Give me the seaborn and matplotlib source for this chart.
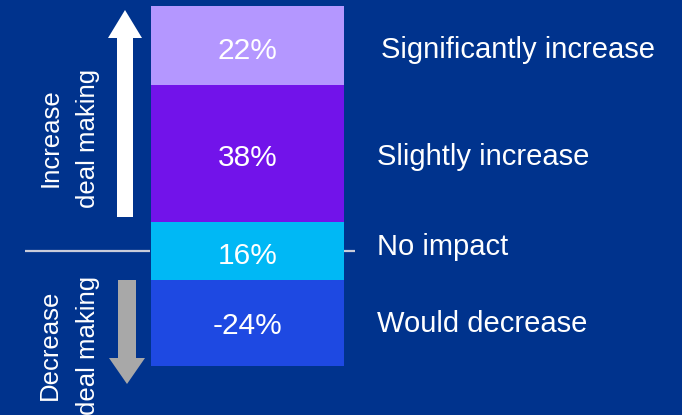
import matplotlib
matplotlib.use("Agg")
import matplotlib.pyplot as plt
from matplotlib.patches import Polygon
import numpy as np
import seaborn as sns

# Survey responses, drawn bottom to top
categories = ["Would decrease", "No impact", "Slightly increase", "Significantly increase"]
values = [-24, 16, 38, 22]
value_labels = ["-24%", "16%", "38%", "22%"]
colors = ["#1E49E2", "#00B8F5", "#7213EA", "#B497FF"]
side_labels = ["Decrease\ndeal making", "Increase\ndeal making"]

BG = "#00338D"
W, H = 682, 415

sns.set_theme(style="white")
plt.rcParams["font.family"] = ["Liberation Sans", "DejaVu Sans"]

fig = plt.figure(figsize=(W / 100, H / 100), dpi=100)
fig.patch.set_facecolor(BG)
ax = fig.add_axes([0, 0, 1, 1])
ax.set_facecolor(BG)

# Segment heights; the "no impact" band straddles the zero line
heights = np.abs(values)
start = -(heights[0] + heights[1] / 2)
bottoms = start + np.concatenate([[0], np.cumsum(heights)[:-1]])

bar_w = 0.8
for h, b, c in zip(heights, bottoms, colors):
    sns.barplot(x=["stack"], y=[h], bottom=b, color=c, width=bar_w,
                saturation=1, linewidth=0, ax=ax)

# Map axis limits so the bar sits where intended in the frame
px_per_unit_y = 3.6
y_top = bottoms[-1] + heights[-1] + 6 / px_per_unit_y
y_bot = start - (H - 366) / px_per_unit_y
ax.set_ylim(y_bot, y_top)
sx = bar_w / 193
ax.set_xlim(-bar_w / 2 - 151 * sx, bar_w / 2 + (W - 344) * sx)
ax.axis("off")

def fx(x):
    return x / W

def fy(y):
    return 1 - y / H

# Vertical nudges (in pixels, positive = down) for the text rows
value_nudge = [3, 5, 4, 5]
label_nudge = [-1, -6, 1, 2]

# Value labels centred in each segment
for h, b, lab, d in zip(heights, bottoms, value_labels, value_nudge):
    ax.text(0, b + h / 2 - d / px_per_unit_y, lab, ha="center", va="center",
            color="white", fontsize=21.5)

# Category labels to the right
for h, b, lab, d in zip(heights, bottoms, categories, label_nudge):
    xpos = 381 if lab == "Significantly increase" else 377
    ax.annotate(lab, xy=(fx(xpos), b + h / 2 - (d + 2) / px_per_unit_y),
                xycoords=("axes fraction", "data"),
                ha="left", va="center", color="white", fontsize=21)

# Zero line
line_col = "#C9CCDA"
ax.plot([fx(25), fx(150)], [0, 0], color=line_col, lw=1.6,
        transform=ax.get_yaxis_transform(), solid_capstyle="butt")
ax.plot([fx(344), fx(355)], [0, 0], color=line_col, lw=1.6,
        transform=ax.get_yaxis_transform(), solid_capstyle="butt")

# Direction arrows
def arrow(xc, y_tail, y_head_base, y_tip, shaft_half, head_half, color):
    pts = [(xc - shaft_half, y_tail), (xc + shaft_half, y_tail),
           (xc + shaft_half, y_head_base), (xc + head_half, y_head_base),
           (xc, y_tip), (xc - head_half, y_head_base),
           (xc - shaft_half, y_head_base)]
    ax.add_patch(Polygon([(fx(x), fy(y)) for x, y in pts], closed=True,
                         transform=ax.transAxes, facecolor=color,
                         edgecolor="none"))

arrow(125, 217, 38, 10, 8, 17, "white")
arrow(127, 280, 358, 384, 9, 18, "#A8A8A8")

# Side labels, rotated
for lab, yc in zip(side_labels, [345, 138]):
    ax.text(fx(69), fy(yc), lab, transform=ax.transAxes, rotation=90,
            ha="center", va="center", multialignment="center", color="white",
            fontsize=18.5, linespacing=1.7)

fig.savefig("out.png", dpi=100, facecolor=BG)
